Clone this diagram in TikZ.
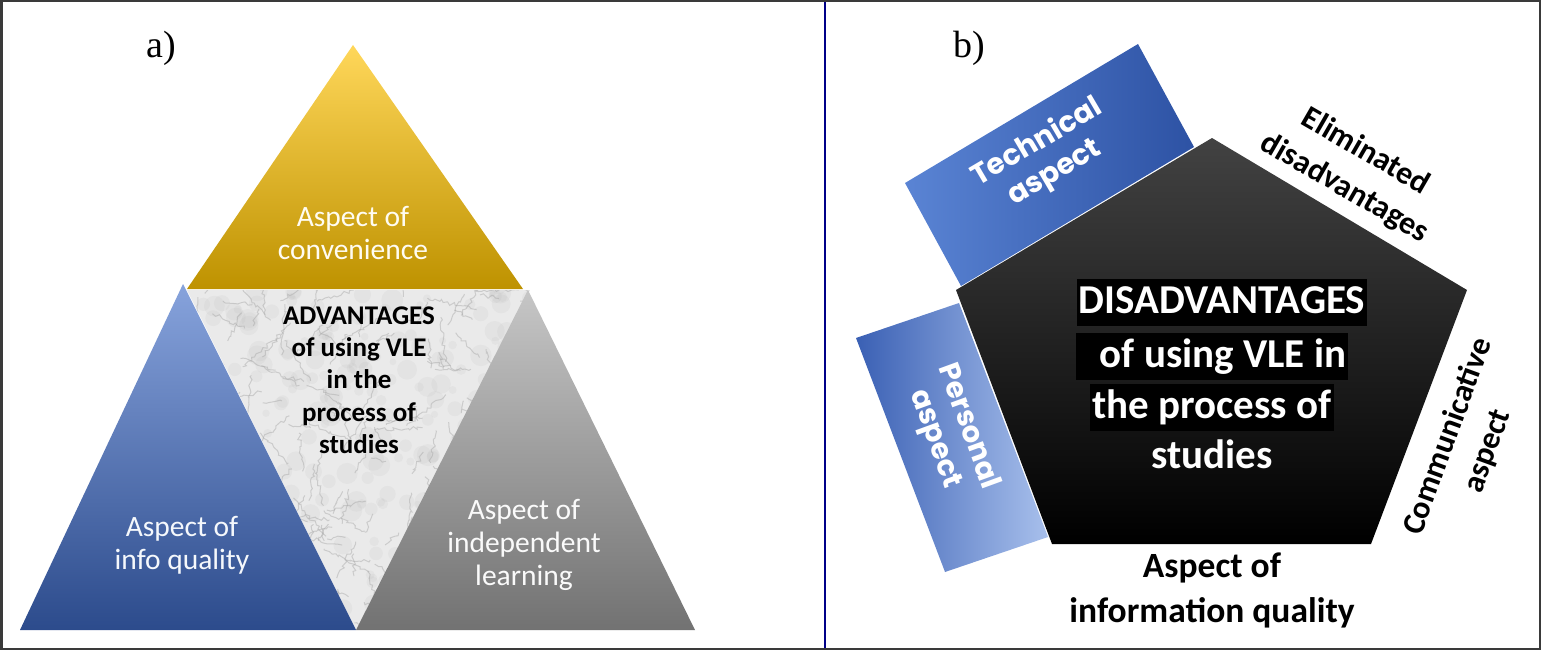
\documentclass[tikz,border=0pt]{standalone}
\usepackage{fontspec}
\setmainfont{Carlito}
\newfontfamily\timesfont{Liberation Serif}
\newfontfamily\gothicfont{Poppins}
\usetikzlibrary{decorations.pathmorphing}

\definecolor{goldtop}{HTML}{FFD75A}
\definecolor{goldmid}{HTML}{F6BE12}
\definecolor{goldbot}{HTML}{BE9200}
\definecolor{bluetop}{HTML}{87A3DC}
\definecolor{bluebot}{HTML}{2C4B8C}
\definecolor{greytop}{HTML}{C6C6C6}
\definecolor{greybot}{HTML}{727272}
\definecolor{marble}{HTML}{EAEAEA}
\definecolor{navyline}{HTML}{000088}
\definecolor{frameline}{HTML}{3A3A3A}
\definecolor{techleft}{HTML}{5A84D4}
\definecolor{techright}{HTML}{2D52A4}
\definecolor{persleft}{HTML}{3A60B4}
\definecolor{persright}{HTML}{A8C0EC}

\tikzset{
  panel label/.style={font=\timesfont\fontsize{38}{40}\selectfont, anchor=base west},
  aspect/.style={font=\fontsize{29.5}{33}\selectfont, align=center},
  centre/.style={font=\bfseries\fontsize{27}{32.25}\selectfont, align=center},
  side/.style={font=\bfseries\fontsize{32}{42}\selectfont, align=center},
  tab/.style={font=\gothicfont\bfseries\fontsize{29}{35}\selectfont, align=center, text=white},
  bigline/.style={font=\bfseries\fontsize{41}{48}\selectfont, text=white, fill=black,
    anchor=base, inner xsep=2pt, inner ysep=4pt, text height=30pt, text depth=9pt},
  vein/.style={gray!70, line width=1pt, opacity=0.45, decorate,
    decoration={random steps, segment length=3pt, amplitude=2pt}},
}

\begin{document}
\begin{tikzpicture}[x=1pt, y=-1pt]
\useasboundingbox (0,0) rectangle (1541,650);

% ---- a) advantages pyramid
\coordinate (ytop) at (353,45);
\coordinate (yl) at (187,289);
\coordinate (yr) at (523,289);
\coordinate (btop) at (183,284);
\coordinate (bl) at (20,630);
\coordinate (bm) at (356,630);
\coordinate (gtop) at (528,290);
\coordinate (gr) at (695,630);

% marble middle
\begin{scope}
  \clip (187,290) -- (530,290) -- (bm) -- cycle;
  \fill[marble] (187,290) -- (530,290) -- (bm) -- cycle;
  \pgfmathsetseed{12}
  \foreach \i in {1,...,300} {
    \pgfmathsetmacro{\vx}{185+350*rnd}
    \pgfmathsetmacro{\vy}{285+350*rnd}
    \fill[gray!60, opacity=0.12] (\vx,\vy) circle ({3+8*rnd});
  }
  \foreach \i in {1,...,200} {
    \pgfmathsetmacro{\vx}{185+350*rnd}
    \pgfmathsetmacro{\vy}{285+350*rnd}
    \pgfmathsetmacro{\va}{360*rnd}
    \pgfmathsetmacro{\vl}{12+40*rnd}
    \draw[vein] (\vx,\vy) -- ++(\va:\vl);
  }
\end{scope}

\shade[top color=goldtop, middle color=goldmid, bottom color=goldbot] (ytop) -- (yr) -- (yl) -- cycle;
\shade[top color=bluetop, bottom color=bluebot] (btop) -- (bm) -- (bl) -- cycle;
\shade[top color=greytop, bottom color=greybot] (gtop) -- (gr) -- (bm) -- cycle;

\node[panel label] (alabel) at (143,58) {a)};
\node[aspect, text=white!92!goldtop] (conv) at (353,233) {Aspect of\\convenience};
\node[centre] (advant) at (359,380) {ADVANTAGES\\of using VLE\\in the\\process of\\studies};
\node[aspect, text=white!92!bluetop] (infoq) at (182,545) {Aspect of\\info quality};
\node[aspect, text=white!92!greytop] (indep) at (524,545) {Aspect of\\independent\\learning};

% ---- b) disadvantages pentagon
\shade[left color=techleft, right color=techright] (905,183) -- (1138,44) -- (1194,147) -- (961,286) -- cycle;
\shade[left color=persleft, right color=persright] (856,338) -- (959,303) -- (1048,537) -- (945,572) -- cycle;

\coordinate (p1) at (1212,138);
\coordinate (p2) at (1467,290);
\coordinate (p3) at (1371,544);
\coordinate (p4) at (1052,544);
\coordinate (p5) at (956,290);
\shade[top color=black!74, middle color=black, bottom color=black] (p1) -- (p2) -- (p3) -- (p4) -- (p5) -- cycle;

\node[panel label] (blabel) at (950,58) {b)};
\node[tab, rotate=30.5] (tech) at (1046,158) {Technical\\aspect};
\node[tab, rotate=-70] (pers) at (951,433) {Personal\\aspect};

\node[bigline] (dis1) at (1222,313) {DISADVANTAGES};
\node[bigline] (dis2) at (1212,367) {\hspace*{22pt}of using VLE in};
\node[bigline] (dis3) at (1212,418) {the process of};
\node[bigline, fill=none] (dis4) at (1212,468) {studies};

\node[side, rotate=-30] (elim) at (1355,170) {Eliminated\\disadvantages};
\node[side, rotate=70] (comm) at (1468,444) {Communicative\\aspect};
\node[side, font=\bfseries\fontsize{35.5}{45}\selectfont] (infq) at (1212,590) {Aspect of\\information quality};

% ---- frame
\draw[navyline, line width=2pt] (825,2) -- (825,648);
\draw[frameline, line width=2.5pt] (1.25,1.25) rectangle (1539.75,648.75);
\end{tikzpicture}
\end{document}
